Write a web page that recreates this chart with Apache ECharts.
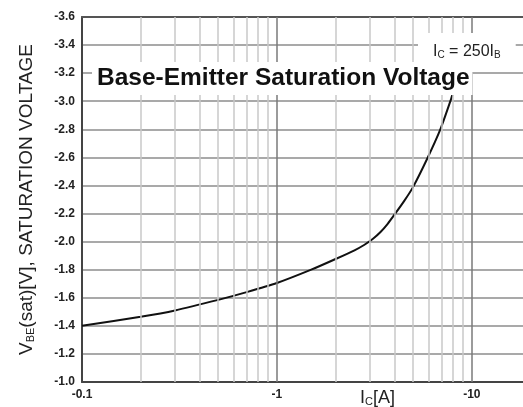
<!DOCTYPE html>
<html>
<head>
<meta charset="utf-8">
<script src="https://cdn.jsdelivr.net/npm/echarts@6/dist/echarts.min.js"></script>
<style>
  html, body { margin: 0; padding: 0; background: #fff; }
  #chart { width: 523px; height: 407px; }
</style>
</head>
<body>
<div id="chart"></div>
<script>
// collector current magnitude (A), shown as negative on the axis labels
var currents = [0.1, 0.2, 0.3, 0.5, 0.7, 1, 1.5, 2, 2.5, 2.8, 3.1, 3.4, 3.7, 4, 4.5, 5, 5.9, 6.85, 7.8, 8.0];
// VBE(sat) in volts
var vbeSat = [-1.40, -1.465, -1.51, -1.585, -1.64, -1.705, -1.80, -1.876, -1.938, -1.976, -2.018, -2.068, -2.127, -2.19, -2.29, -2.39, -2.59, -2.79, -3.01, -3.06];
// log grid lines
var minorX = [0.2, 0.3, 0.4, 0.5, 0.6, 0.7, 0.8, 0.9, 2, 3, 4, 5, 6, 7, 8, 9];
var majorX = [1, 10];

var chart = echarts.init(document.getElementById('chart'));
var font = '"Liberation Sans", Arial, sans-serif';

var curve = [];
for (var i = 0; i < currents.length; i++) {
  curve.push([currents[i], vbeSat[i]]);
}

var option = {
  animation: false,
  grid: { left: 82, top: 17, bottom: 25, right: 0 },
  xAxis: [{
    type: 'log',
    logBase: 10,
    min: 0.1,
    max: 18.3,
    axisLine: { show: true, lineStyle: { color: '#444', width: 2 } },
    axisTick: { show: false },
    splitLine: { show: false },
    axisLabel: {
      margin: 7,
      color: '#222',
      fontFamily: font,
      fontWeight: 'bold',
      fontSize: 12,
      showMaxLabel: false,
      formatter: function (v) { return '-' + v; }
    }
  }, {
    // top frame line
    type: 'log',
    logBase: 10,
    min: 0.1,
    max: 18.3,
    position: 'top',
    axisLine: { show: true, lineStyle: { color: '#555', width: 2 } },
    axisTick: { show: false },
    axisLabel: { show: false },
    splitLine: { show: false }
  }],
  yAxis: {
    type: 'value',
    inverse: true,
    min: -3.6,
    max: -1.0,
    interval: 0.2,
    axisLine: { show: true, lineStyle: { color: '#444', width: 2 } },
    axisTick: { show: false },
    splitLine: { lineStyle: { color: '#8c8c8c', width: 1.5 } },
    axisLabel: {
      margin: 7,
      color: '#222',
      fontFamily: font,
      fontWeight: 'bold',
      fontSize: 12,
      formatter: function (v) { return v.toFixed(1); }
    },
    name: '{v|V}{s|BE}{v|(sat)[V], SATURATION VOLTAGE}',
    nameLocation: 'middle',
    nameGap: 46,
    nameTextStyle: {
      rich: {
        v: { fontFamily: font, fontSize: 19, color: '#222' },
        s: { fontFamily: font, fontSize: 11, color: '#222', padding: [8, 0, 0, 0] }
      }
    }
  },
  series: [{
    type: 'line',
    data: [],
    z: 1,
    silent: true,
    markLine: {
      silent: true,
      symbol: 'none',
      label: { show: false },
      animation: false,
      data: minorX.map(function (x) {
        return { xAxis: x, lineStyle: { color: '#c8c8c8', width: 1.5, type: 'solid' } };
      }).concat(majorX.map(function (x) {
        return { xAxis: x, lineStyle: { color: '#7a7a7a', width: 1.5, type: 'solid' } };
      }))
    }
  }, {
    type: 'line',
    data: curve,
    z: 3,
    smooth: 0.25,
    symbol: 'none',
    lineStyle: { color: '#111', width: 2 }
  }],
  graphic: [{
    type: 'text',
    left: 418,
    top: 33,
    z: 10,
    style: {
      text: '{a|I}{b|C}{a| = 250I}{b|B}',
      backgroundColor: '#fff',
      padding: [10, 15, 12, 15],
      rich: {
        a: { fontFamily: font, fontSize: 16, fill: '#222' },
        b: { fontFamily: font, fontSize: 10, fill: '#222', padding: [7, 0, 0, 0] }
      }
    }
  }, {
    type: 'text',
    left: 92,
    top: 62,
    z: 11,
    style: {
      text: 'Base-Emitter Saturation Voltage',
      font: 'bold 24.5px "Liberation Sans", Arial, sans-serif',
      fill: '#111',
      backgroundColor: '#fff',
      padding: [4, 3, 4, 5]
    }
  }, {
    type: 'text',
    left: 360,
    top: 389,
    z: 10,
    style: {
      text: '{a|I}{b|C}{a|[A]}',
      rich: {
        a: { fontFamily: font, fontSize: 18, fill: '#222' },
        b: { fontFamily: font, fontSize: 11, fill: '#222', padding: [8, 0, 0, 0] }
      }
    }
  }]
};

chart.setOption(option);
</script>
</body>
</html>
